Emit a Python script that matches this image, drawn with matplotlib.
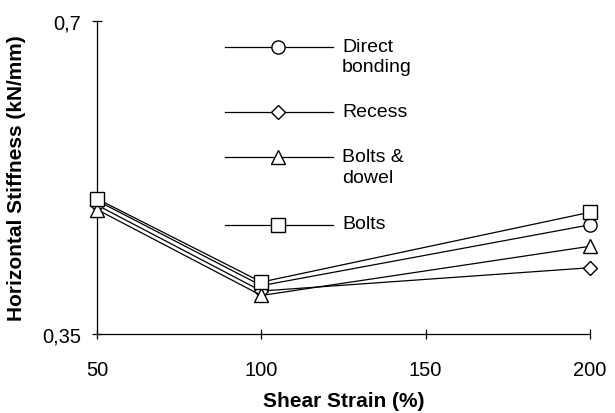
import numpy as np
import matplotlib.pyplot as plt
from matplotlib.lines import Line2D

plt.rcParams['font.family'] = ['Liberation Sans', 'DejaVu Sans']

#---------------------- data ----------------------
strain = [50, 100, 200]
direct_bonding = [0.499, 0.404, 0.472]
recess = [0.494, 0.398, 0.424]
bolts_dowel = [0.489, 0.393, 0.448]
bolts = [0.501, 0.408, 0.486]

labels = ['Direct\nbonding', 'Recess', 'Bolts &\ndowel', 'Bolts']
markers = ['o', 'D', '^', 's']
msizes = [9.5, 7, 9.5, 9.5]
series = [direct_bonding, recess, bolts_dowel, bolts]

#---------------------- plotting ----------------------
fig = plt.figure(figsize=(6.15, 4.14), dpi=100)
ax = fig.add_axes([0.158, 0.191, 0.801, 0.756])

for vals, mk, ms in zip(series, markers, msizes):
    ax.plot(strain, vals, color='black', lw=0.9, marker=mk, ms=ms,
            mfc='white', mec='black', mew=1.0, clip_on=False, zorder=3)

ax.set_xlim(50, 200)
ax.set_ylim(0.35, 0.7)
ax.set_xticks([50, 100, 150, 200])
ax.set_yticks([0.35, 0.7])
ax.set_yticklabels(['0,35', '0,7'])
ax.tick_params(axis='both', labelsize=14.5, color='black', width=0.9)
ax.tick_params(axis='x', direction='inout', length=7, pad=15)
ax.tick_params(axis='y', direction='inout', length=7, pad=8)
for s in ['top', 'right']:
    ax.spines[s].set_visible(False)
for s in ['left', 'bottom']:
    ax.spines[s].set_linewidth(0.9)

ax.set_xlabel('Shear Strain (%)', fontsize=15, fontweight='bold', labelpad=9)
ax.set_ylabel('Horizontal Stiffness (kN/mm)', fontsize=15, fontweight='bold', labelpad=12)

# hand-placed legend as in the original
leg_y = [0.917, 0.708, 0.564, 0.349]
for y, lab, mk, ms in zip(leg_y, labels, markers, msizes):
    ln = Line2D([0.26, 0.479], [y, y], transform=ax.transAxes, color='black', lw=0.9)
    ax.add_line(ln)
    ax.plot([0.367], [y], transform=ax.transAxes, marker=mk, ms=ms,
            mfc='white', mec='black', mew=1.0, color='black', clip_on=False)
    ax.text(0.497, y + 0.03, lab, transform=ax.transAxes, fontsize=14,
            va='top', ha='left', linespacing=1.3)

fig.savefig('out.png', dpi=100)
